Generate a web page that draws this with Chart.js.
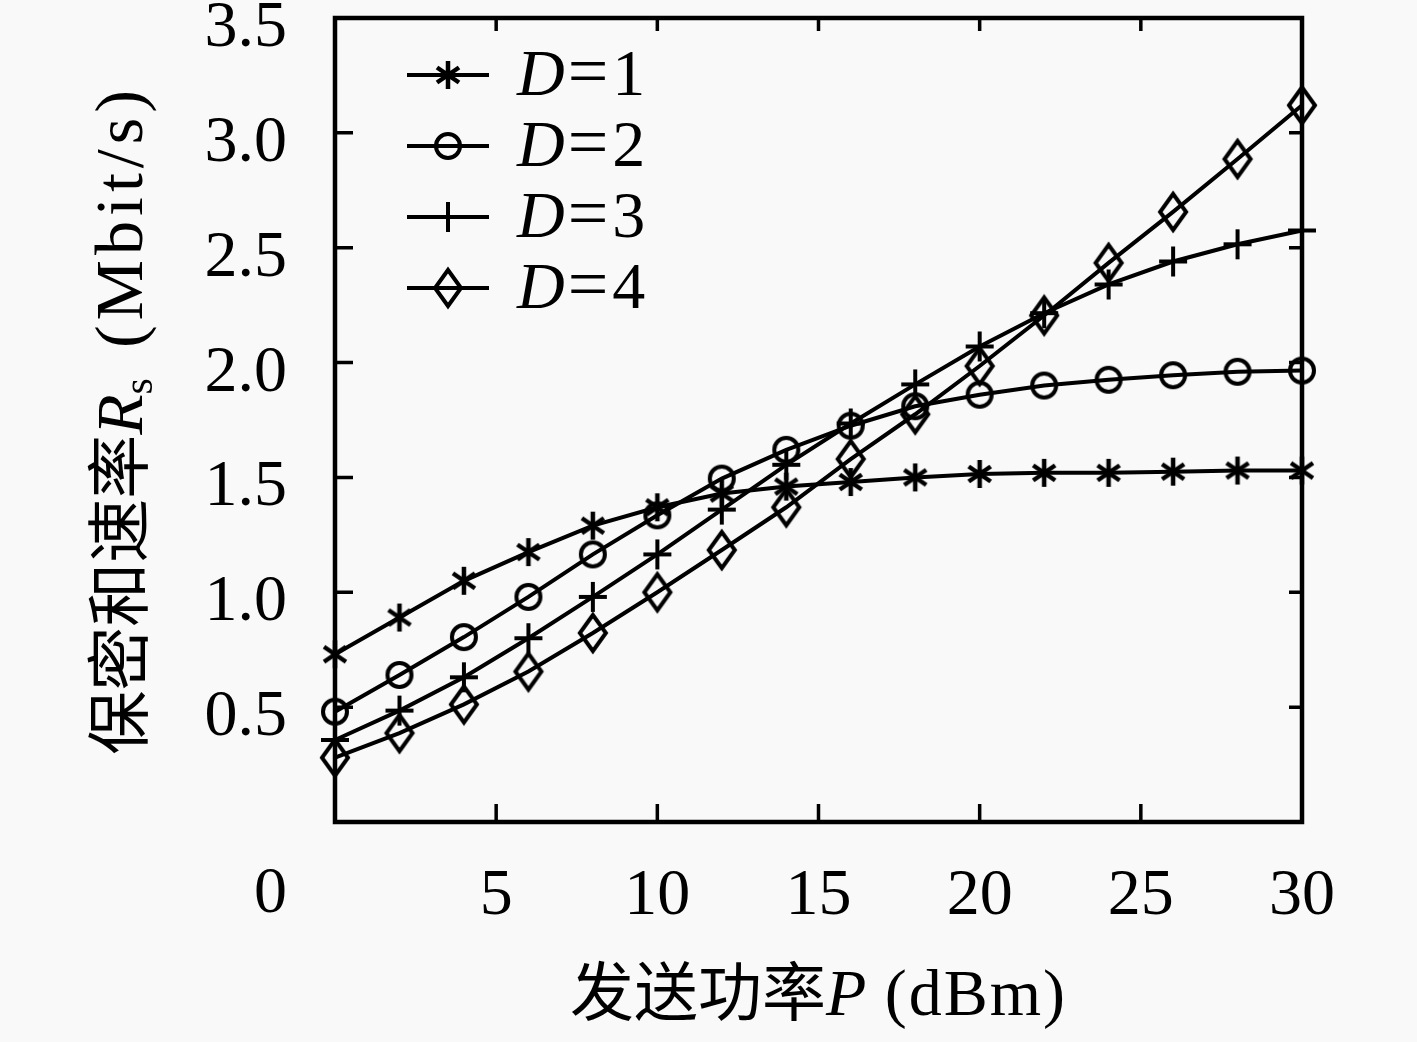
<!DOCTYPE html>
<html>
<head>
<meta charset="utf-8">
<title>保密和速率</title>
<script src="https://cdn.jsdelivr.net/npm/chart.js@4.4.1/dist/chart.umd.min.js"></script>
<style>
  html, body { margin: 0; padding: 0; background: #f9f9f9; overflow: hidden; }
  #chart { display: block; }
</style>
</head>
<body>
<canvas id="chart" width="1417" height="1042"></canvas>
<script>
// transmit power P (dBm)
const power = [0, 2, 4, 6, 8, 10, 12, 14, 16, 18, 20, 22, 24, 26, 28, 30];

// secrecy sum rate Rs (Mbit/s), one array per D
const rateD1 = [0.73, 0.89, 1.05, 1.175, 1.29, 1.37, 1.43, 1.46, 1.48, 1.50, 1.515, 1.52, 1.52, 1.525, 1.53, 1.53];
const rateD2 = [0.48, 0.64, 0.805, 0.98, 1.165, 1.335, 1.495, 1.62, 1.725, 1.81, 1.86, 1.90, 1.925, 1.945, 1.96, 1.965];
const rateD3 = [0.357, 0.485, 0.63, 0.80, 0.98, 1.165, 1.36, 1.555, 1.735, 1.905, 2.07, 2.215, 2.34, 2.44, 2.515, 2.575];
const rateD4 = [0.28, 0.387, 0.512, 0.655, 0.823, 1.00, 1.184, 1.37, 1.58, 1.775, 1.985, 2.205, 2.434, 2.656, 2.886, 3.12];

const seriesNames = ['D=1', 'D=2', 'D=3', 'D=4'];
const xTickValues = [0, 5, 10, 15, 20, 25, 30];
const yTickValues = [0, 0.5, 1.0, 1.5, 2.0, 2.5, 3.0, 3.5];

const serif = '"Liberation Serif", "DejaVu Serif", serif';
const cjk = '"Noto Sans CJK SC", "Noto Sans CJK JP", sans-serif';
const fontSize = 66;

// hollow black markers drawn on small canvases
function makeMarker(kind) {
    const c = document.createElement('canvas');
    c.width = 40;
    c.height = 46;
    const g = c.getContext('2d');
    g.strokeStyle = '#000';
    g.lineWidth = 4;
    g.translate(20, 23);
    g.beginPath();
    if (kind === 'asterisk') {
        g.lineWidth = 4.5;
        g.moveTo(0, -14); g.lineTo(0, 14);
        g.moveTo(-11, -7.5); g.lineTo(11, 7.5);
        g.moveTo(-11, 7.5); g.lineTo(11, -7.5);
    } else if (kind === 'circle') {
        g.arc(0, 0, 12, 0, Math.PI * 2);
    } else if (kind === 'plus') {
        g.moveTo(0, -15); g.lineTo(0, 15);
        g.moveTo(-14, 0); g.lineTo(14, 0);
    } else {
        g.moveTo(0, -18); g.lineTo(13, 0); g.lineTo(0, 18); g.lineTo(-13, 0);
        g.closePath();
    }
    g.stroke();
    return c;
}

const markers = ['asterisk', 'circle', 'plus', 'diamond'].map(makeMarker);

const datasets = [rateD1, rateD2, rateD3, rateD4].map((vals, i) => ({
    label: seriesNames[i],
    data: power.map((p, j) => ({ x: p, y: vals[j] })),
    borderColor: '#000',
    borderWidth: 4,
    pointStyle: markers[i],
    pointRadius: 14,
    pointHoverRadius: 14,
    tension: 0,
    fill: false,
    clip: false
}));

// draw a run of [text, font, dy, extra advance, letter spacing] pieces from x
function drawPieces(ctx, pieces, x, y) {
    pieces.forEach(p => {
        ctx.font = p[1];
        ctx.letterSpacing = (p[4] || 0) + 'px';
        ctx.fillText(p[0], x, y + (p[2] || 0));
        x += ctx.measureText(p[0]).width + (p[3] || 0);
    });
    ctx.letterSpacing = '0px';
}

function piecesWidth(ctx, pieces) {
    let w = 0;
    pieces.forEach(p => {
        ctx.font = p[1];
        ctx.letterSpacing = (p[4] || 0) + 'px';
        w += ctx.measureText(p[0]).width + (p[3] || 0);
    });
    ctx.letterSpacing = '0px';
    return w;
}

const yLabel = v => (v === 0 ? '' : v.toFixed(1));

// plot box with inward ticks, y labels, legend, axis titles and the shared "0"
const decorations = {
    id: 'decorations',
    afterDraw(chart) {
        const ctx = chart.ctx;
        const a = chart.chartArea;
        const xs = chart.scales.x;
        const ys = chart.scales.y;
        ctx.save();
        ctx.strokeStyle = '#000';
        ctx.fillStyle = '#000';

        ctx.lineWidth = 4.5;
        ctx.strokeRect(a.left, a.top, a.right - a.left, a.bottom - a.top);

        ctx.lineWidth = 3.5;
        ctx.beginPath();
        xTickValues.forEach(v => {
            const px = xs.getPixelForValue(v);
            if (v === xs.min || v === xs.max) return;
            ctx.moveTo(px, a.bottom); ctx.lineTo(px, a.bottom - 18);
            ctx.moveTo(px, a.top); ctx.lineTo(px, a.top + 13);
        });
        yTickValues.forEach(v => {
            const py = ys.getPixelForValue(v);
            if (v === ys.min || v === ys.max) return;
            ctx.moveTo(a.left, py); ctx.lineTo(a.left + 18, py);
            ctx.moveTo(a.right, py); ctx.lineTo(a.right - 13, py);
        });
        ctx.stroke();

        // y tick labels, sitting a little below their ticks
        ctx.font = fontSize + 'px ' + serif;
        ctx.textAlign = 'right';
        ctx.textBaseline = 'alphabetic';
        yTickValues.forEach(v => {
            ctx.fillText(yLabel(v), a.left - 48, ys.getPixelForValue(v) + 28);
        });

        // shared origin label
        ctx.textBaseline = 'top';
        ctx.fillText('0', a.left - 48, a.bottom + 40);

        // legend
        chart.data.datasets.forEach((ds, i) => {
            const cy = a.top + 57 + i * 71;
            const x0 = a.left + 72;
            ctx.lineWidth = 4;
            ctx.beginPath();
            ctx.moveTo(x0, cy); ctx.lineTo(x0 + 82, cy);
            ctx.stroke();
            const m = ds.pointStyle;
            ctx.drawImage(m, x0 + 41 - m.width / 2, cy - m.height / 2);
            const parts = ds.label.split('=');
            ctx.textAlign = 'left';
            ctx.textBaseline = 'alphabetic';
            drawPieces(ctx, [
                [parts[0], 'italic ' + fontSize + 'px ' + serif, 0, 3],
                ['=', '72px ' + serif, 0, 4],
                [parts[1], fontSize + 'px ' + serif]
            ], x0 + 110, cy + 20);
        });

        // x title
        ctx.textAlign = 'left';
        ctx.textBaseline = 'alphabetic';
        const xPieces = [
            ['发送功率', '64px ' + cjk],
            ['P', 'italic 66px ' + serif],
            [' (dBm)', '66px ' + serif, 0, 0, 2]
        ];
        const xw = piecesWidth(ctx, xPieces);
        drawPieces(ctx, xPieces, (a.left + a.right) / 2 - xw / 2, 1015);

        // y title, rotated
        const yPieces = [
            ['保密和速率', '64px ' + cjk],
            ['R', 'italic 66px ' + serif],
            ['s', '42px ' + serif, 10, 8],
            [' (Mbit/s)', '68px ' + serif, 0, 0, 5]
        ];
        ctx.translate(142, (a.top + a.bottom) / 2);
        ctx.rotate(-Math.PI / 2);
        const yw = piecesWidth(ctx, yPieces);
        drawPieces(ctx, yPieces, -yw / 2, 0);
        ctx.restore();
    }
};

new Chart(document.getElementById('chart'), {
    type: 'line',
    data: { datasets: datasets },
    options: {
        responsive: false,
        animation: false,
        layout: { padding: { top: 18, right: 115, left: 0, bottom: 0 } },
        plugins: { legend: { display: false }, tooltip: { enabled: false } },
        scales: {
            x: {
                type: 'linear',
                min: 0,
                max: 30,
                afterBuildTicks: s => { s.ticks = xTickValues.map(v => ({ value: v })); },
                afterFit: s => { s.height = 220; s.paddingLeft = 0; s.paddingRight = 0; },
                grid: { display: false, drawTicks: false },
                border: { display: false },
                ticks: {
                    color: '#000',
                    font: { family: serif, size: fontSize },
                    padding: 35,
                    maxRotation: 0,
                    autoSkip: false,
                    callback: v => (v === 0 ? '' : String(v))
                }
            },
            y: {
                type: 'linear',
                min: 0,
                max: 3.5,
                afterBuildTicks: s => { s.ticks = yTickValues.map(v => ({ value: v })); },
                afterFit: s => { s.width = 335; s.paddingTop = 0; s.paddingBottom = 0; },
                grid: { display: false, drawTicks: false },
                border: { display: false },
                ticks: { display: false }
            }
        }
    },
    plugins: [decorations]
});
</script>
</body>
</html>
